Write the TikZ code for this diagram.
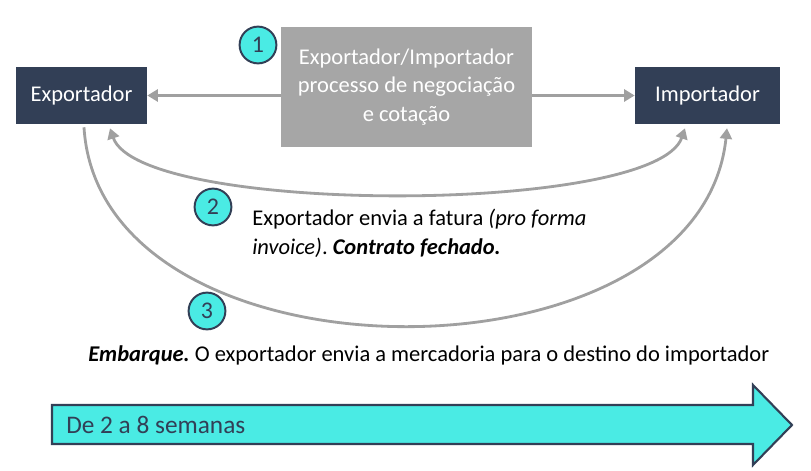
\documentclass[tikz,border=0pt]{standalone}
\usepackage{fontspec}
\setmainfont{Carlito}
\usetikzlibrary{arrows.meta}
\definecolor{marinho}{HTML}{323F56}
\definecolor{cinza}{HTML}{A6A6A6}
\definecolor{cinzaseta}{HTML}{A0A0A0}
\definecolor{ciano}{HTML}{4AEBE4}
\frenchspacing

\begin{document}
\begin{tikzpicture}[x=0.025cm, y=-0.025cm,
    >={Triangle[length=7.5pt,width=8.5pt]},
    texto/.style={font=\fontsize{16}{20.2}\selectfont},
    parte/.style={texto, fill=marinho, text=white, minimum height=1.425cm, inner sep=0pt},
    seta/.style={->, draw=cinzaseta, line width=2pt},
    passo/.style={circle, fill=ciano, draw=marinho, line width=1.4pt, minimum size=0.92cm,
      inner sep=0pt, text=marinho, font=\fontsize{17}{20}\selectfont}]
  \useasboundingbox (0,0) rectangle (811,471);
  % partes e negociacao
  \node[parte, minimum width=3.275cm] (exportador) at (81.5,95.5) {Exportador};
  \node[parte, minimum width=3.625cm] (importador) at (707.5,95.5) {Importador};
  \node[texto, fill=cinza, text=white, align=center, minimum width=6.275cm, minimum height=3cm,
    inner sep=0pt] (negociacao) at (406.5,87) {Exportador/Importador\\processo de negociação\\e cotação};
  \draw[seta] (exportador.east -| negociacao.west) -- (exportador.east);
  \draw[seta] (importador.west -| negociacao.east) -- (importador.west);
  \node[passo] (passo1) at (258,45) {1};
  % fatura
  \draw[seta, <->] ([shift={(28.5,4)}]exportador.south) .. controls +(30,87) and +(-30,87) .. ([shift={(-22.5,4)}]importador.south);
  \node[passo] (passo2) at (213,207) {2};
  \node[texto, align=left, anchor=north west, inner sep=0pt] (fatura) at (252,209)
    {Exportador envia a fatura {\itshape (pro forma}\\{\itshape invoice)}. {\bfseries\itshape Contrato fechado.}};
  % embarque
  \draw[seta] ([shift={(2.5,3)}]exportador.south) .. controls +(16,264) and +(-27,263) .. ([shift={(19.5,4)}]importador.south);
  \node[passo] (passo3) at (207,311) {3};
  \node[texto, anchor=base west, inner sep=0pt] (embarque) at (88,362)
    {{\bfseries\itshape Embarque.} O exportador envia a mercadoria para o destino do importador};
  % prazo
  \draw[fill=ciano, draw=marinho, line width=1.5pt, line join=miter]
    (52,405) -- (753,405) -- (753,385) -- (792,425) -- (753,465) -- (753,444) -- (52,444) -- cycle;
  \node[anchor=west, inner sep=0pt, text=marinho, font=\fontsize{18}{21}\selectfont] (prazo) at (66,425) {De 2 a 8 semanas};
\end{tikzpicture}
\end{document}
